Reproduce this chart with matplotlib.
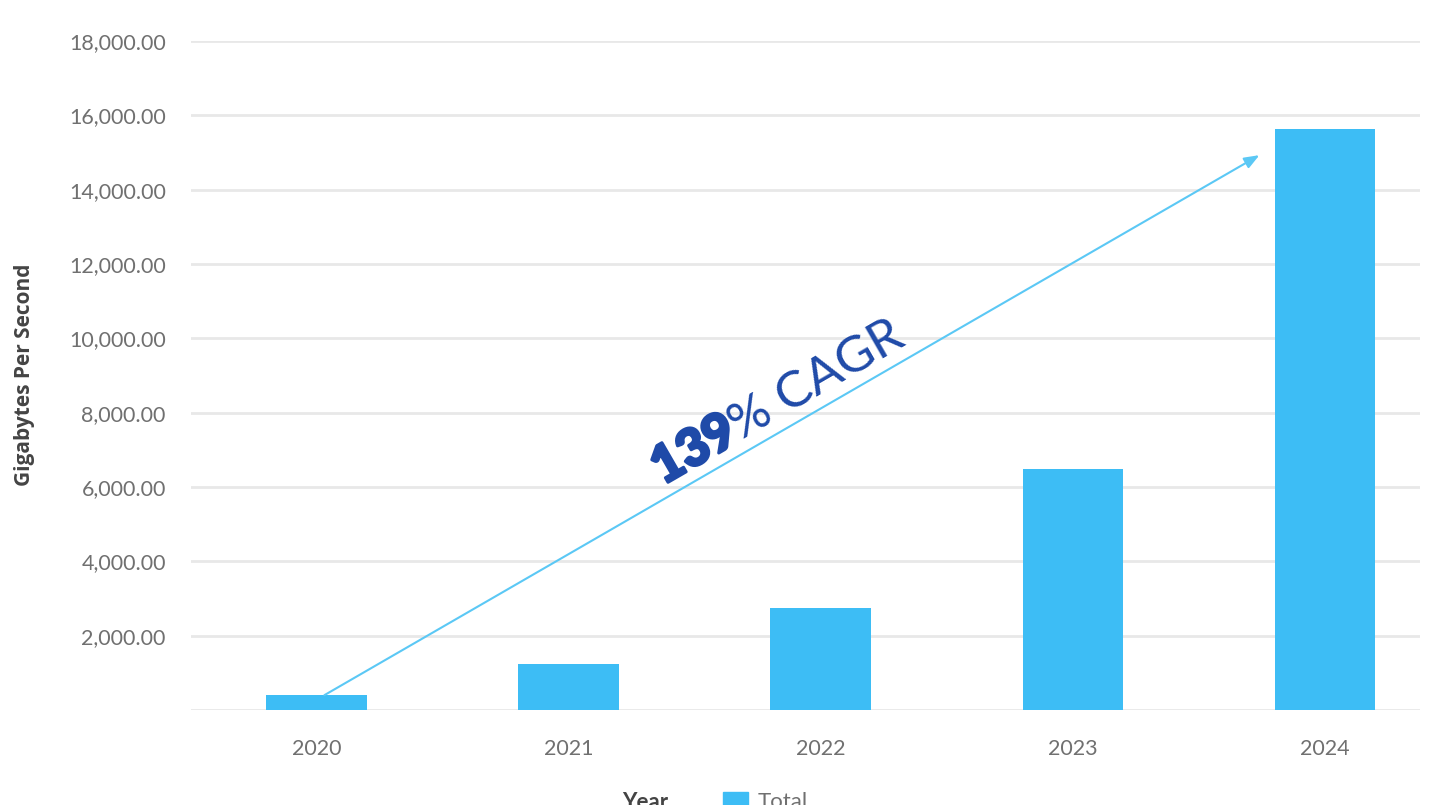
import matplotlib
matplotlib.use("Agg")
import matplotlib.pyplot as plt
import matplotlib.patheffects as pe
from matplotlib.ticker import FuncFormatter

years = ["2020", "2021", "2022", "2023", "2024"]
totals = [400, 1240, 2740, 6480, 15630]
yticks = [0, 2000, 4000, 6000, 8000, 10000, 12000, 14000, 16000, 18000]
cagr_bold = "139"
cagr_rest = "% CAGR"

plt.rcParams['font.family'] = ['Lato', 'DejaVu Sans']

fig = plt.figure(figsize=(14.35, 8.05), dpi=100)
ax = fig.add_axes([0.133, 0.118, 0.8565, 0.831])

x = list(range(len(years)))
ax.bar(x, totals, width=0.4, color="#3dbdf5", zorder=3)
ax.set_xlim(-0.5, 4.377)
ax.set_ylim(0, 18000)
ax.set_yticks(yticks)
ax.yaxis.set_major_formatter(FuncFormatter(lambda v, p: "" if v == 0 else f"{v:,.2f}"))
ax.set_xticks(x)
ax.set_xticklabels(years)
ax.grid(axis='y', color="#e8e8e8", linewidth=2, zorder=0)
for s in ax.spines.values():
    s.set_visible(False)
ax.tick_params(axis='both', length=0, colors="#707070", labelsize=15.5)
ax.tick_params(axis='y', pad=18)
ax.tick_params(axis='x', pad=21)

# arrow
ax.annotate("", xy=(3.74, 14930), xytext=(0.03, 400),
            arrowprops=dict(arrowstyle="-|>,head_length=0.9,head_width=0.35",
                            color="#5bc8f5", lw=1.5, shrinkA=0, shrinkB=0),
            zorder=4)

ang = 30.0
ax.text(1.68, 7250, cagr_bold, rotation=ang, rotation_mode='anchor',
        ha='right', va='baseline', fontsize=37, fontweight='black',
        color="#1f4aa8", zorder=5,
        path_effects=[pe.withStroke(linewidth=2.2, foreground="#1f4aa8")])
ax.text(1.68, 7250, cagr_rest, rotation=ang, rotation_mode='anchor',
        ha='left', va='baseline', fontsize=37, color="#1f4aa8", zorder=5)

fig.text(25 / 1435, 1 - 375 / 805, "Gigabytes Per Second", rotation=90,
         ha='center', va='center', fontsize=15, fontweight='bold', color="#444444",
         family=['Open Sans', 'DejaVu Sans'])

# legend (cut off at bottom, as in the reference)
fig.text(645 / 1435, 1 - 792 / 805, "Year", ha='center', va='top',
         fontsize=16, fontweight='bold', color="#444444")
fig.patches.append(matplotlib.patches.Rectangle((723 / 1435, 0), 25 / 1435, 13 / 805,
                                                transform=fig.transFigure,
                                                color="#3dbdf5", figure=fig))
fig.text(758 / 1435, 1 - 792 / 805, "Total", ha='left', va='top',
         fontsize=16, color="#707070")

fig.savefig("out.png", dpi=100)
